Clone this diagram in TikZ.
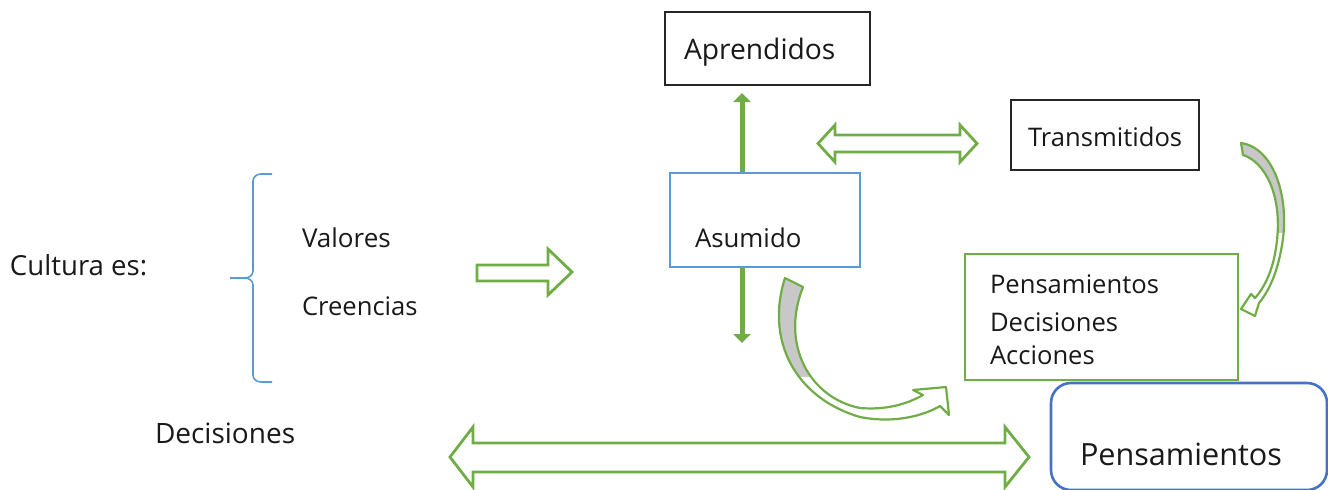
\documentclass[tikz,border=0pt]{standalone}
\usepackage{fontspec}
\setmainfont{Open Sans}
\usetikzlibrary{arrows.meta}
\definecolor{ogreen}{RGB}{112,173,71}
\definecolor{oblue}{RGB}{91,155,213}
\definecolor{dblue}{RGB}{68,114,196}
\definecolor{txt}{RGB}{25,25,25}
\definecolor{cgray}{RGB}{200,200,200}
\def\arrowA{(785,278) .. controls (765,340) and (795,398) .. (860,417) .. controls (895,424) and (925,415) .. (940,406) -- (949,415) -- (946,387) -- (913,390) -- (923,395) .. controls (905,405) and (885,410) .. (860,408) .. controls (810,398) and (780,345) .. (803,287) -- cycle}
\def\arrowB{(1241,143) .. controls (1275,148) and (1290,200) .. (1282,245) .. controls (1277,275) and (1268,292) .. (1259,303) -- (1255,316) -- (1241,309) -- (1251,294) -- (1255,298) .. controls (1264,288) and (1274,270) .. (1277,240) .. controls (1282,195) and (1265,162) .. (1243,155) -- cycle}
\begin{document}
\begin{tikzpicture}[x=0.5pt,y=-0.5pt,
  lbl/.style={anchor=base west, inner sep=0, outer sep=0, text=txt},
  fs/.style={font=\fontsize{#1}{#1}\selectfont},
  boxn/.style={inner sep=0, outer sep=0, fill=white},
  blackbox/.style={boxn, draw=black!85, line width=1pt},
  bluebox/.style={boxn, draw=oblue, line width=1.4pt},
  greenbox/.style={boxn, draw=ogreen, line width=1.3pt},
  roundbox/.style={boxn, draw=dblue, line width=1.3pt, rounded corners=10pt},
  block/.style={draw=ogreen, line width=1.4pt, fill=white, line join=miter},
  curv/.style={draw=ogreen, line width=1.1pt, line join=round},
  bracest/.style={draw=oblue, line width=0.8pt},
  vline/.style={draw=ogreen, line width=2.5pt, {Triangle[width=8.5pt,length=4.5pt]}-{Triangle[width=8.5pt,length=4.5pt]}}
]
\useasboundingbox (0,0) rectangle (1328,489);
% vertical double arrow
\coordinate (vt) at (742,93);
\coordinate (vb) at (742,343);
\draw[vline] (vt) -- (vb);
% boxes
\node[blackbox, minimum width=102.5pt, minimum height=36.5pt] (ap) at (767.5,48.5) {};
\node[blackbox, minimum width=94pt, minimum height=35pt] (tr) at (1105,135) {};
\node[bluebox, minimum width=95pt, minimum height=47pt] (as) at (765,220) {};
\node[greenbox, minimum width=136.5pt, minimum height=63pt] (pda) at (1101.5,317) {};
\node[roundbox, minimum width=138pt, minimum height=53.5pt] (pe) at (1189,436.5) {};
% texts
\node[lbl, fs=14.1] (tap) at (684,59) {Aprendidos};
\node[lbl, fs=12.8] (ttr) at (1028,146) {Transmitidos};
\node[lbl, fs=12.9] (tas) at (695,247) {Asumido};
\node[lbl, fs=12.8] (tp1) at (990,293) {Pensamientos};
\node[lbl, fs=12.8] (tp2) at (990,331) {Decisiones};
\node[lbl, fs=12.8] (tp3) at (990,364) {Acciones};
\node[lbl, fs=15.3] (tpe) at (1080,465) {Pensamientos};
\node[lbl, fs=13.8] (tcu) at (10,275) {Cultura es:};
\node[lbl, fs=13] (tva) at (302,247) {Valores};
\node[lbl, fs=12.8] (tcr) at (302,315) {Creencias};
\node[lbl, fs=14] (tde) at (155,443) {Decisiones};
% brace
\draw[bracest] (272,174) -- (261,174) to[out=180,in=90] (253,181) -- (253,271) to[out=270,in=0] (245,278) -- (230,278);
\draw[bracest] (245,278) to[out=0,in=90] (253,285) -- (253,375) to[out=270,in=180] (261,382) -- (272,382);
% block arrows
\draw[block] (477,265) -- (548,265) -- (548,249) -- (572,272) -- (548,295) -- (548,281) -- (477,281) -- cycle;
\draw[block] (818,143.5) -- (835,125) -- (835,135) -- (960,135) -- (960,125) -- (977,143.5) -- (960,162) -- (960,152) -- (835,152) -- (835,162) -- cycle;
\draw[block] (450,457) -- (473,427) -- (473,443) -- (1005,443) -- (1005,427) -- (1029,457) -- (1005,487) -- (1005,472) -- (473,472) -- (473,487) -- cycle;
% curved arrow A
\fill[white] \arrowA;
\begin{scope}
  \clip (700,250) rectangle (900,376);
  \fill[cgray] \arrowA;
\end{scope}
\draw[curv] \arrowA;
% curved arrow B
\fill[white] \arrowB;
\begin{scope}
  \clip (1200,120) rectangle (1320,232);
  \fill[cgray] \arrowB;
\end{scope}
\draw[curv] \arrowB;
\end{tikzpicture}
\end{document}
